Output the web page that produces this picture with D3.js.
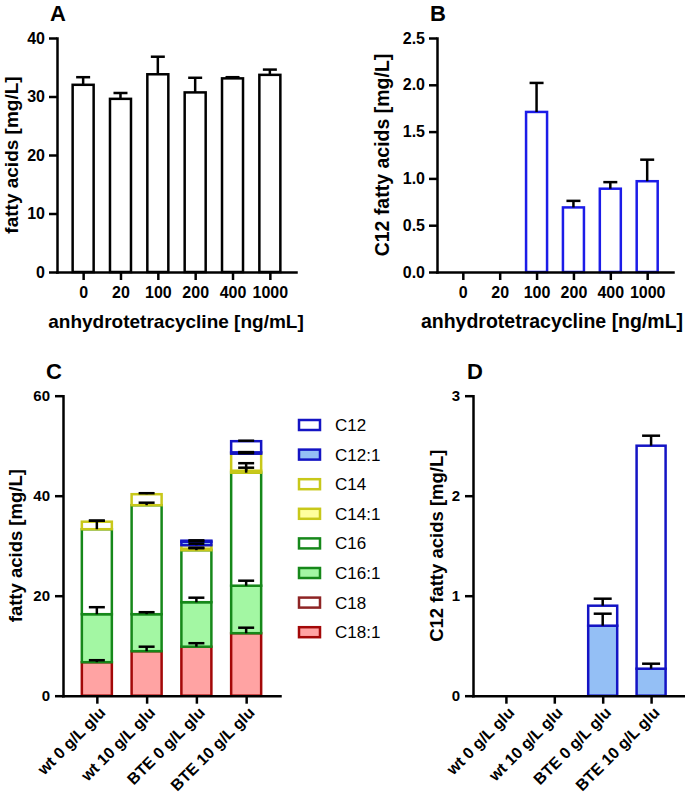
<!DOCTYPE html>
<html>
<head>
<meta charset="utf-8">
<script src="https://cdn.jsdelivr.net/npm/d3@7"></script>
<style>
  body { margin: 0; background: #fff; }
  svg { font-family: "Liberation Sans", Arial, sans-serif; }
</style>
</head>
<body>
<div id="chart"></div>
<script>
const width = 685;
const height = 800;

// panels A and B: induction with anhydrotetracycline
const atcDoses = ["0", "20", "100", "200", "400", "1000"];
const totalFA = [32.0, 29.6, 33.8, 30.7, 33.1, 33.7];
const totalFAErr = [1.3, 1.0, 3.0, 2.5, 0.2, 0.9];
const c12FA = [0, 0, 1.71, 0.69, 0.89, 0.97];
const c12FAErr = [0, 0, 0.31, 0.07, 0.07, 0.23];
const aTicks = [0, 10, 20, 30, 40];
const bTicks = [0, 0.5, 1.0, 1.5, 2.0, 2.5];

// panels C and D: strains x glucose
const strains = ["wt 0 g/L glu", "wt 10 g/L glu", "BTE 0 g/L glu", "BTE 10 g/L glu"];
const species = ["C12", "C12:1", "C14", "C14:1", "C16", "C16:1", "C18", "C18:1"];
const c12 = [0, 0, 0.20, 2.23];
const c12Err = [0, 0, 0.07, 0.10];
const c12_1 = [0, 0, 0.70, 0.27];
const c12_1Err = [0, 0, 0.12, 0.05];
const c14 = [1.5, 2.2, 0.7, 3.4];
const c14Err = [0.2, 0.2, 0.3, 0.1];
const c14_1 = [0, 0, 0.3, 0.4];
const c14_1Err = [0, 0, 0.2, 1.5];
const c16 = [17.0, 21.8, 10.4, 22.6];
const c16Err = [1.7, 0.5, 0.4, 1.0];
const c16_1 = [9.6, 7.4, 8.9, 9.5];
const c16_1Err = [1.4, 0.4, 0.9, 1.0];
const c18 = [0, 0, 0, 0];
const c18Err = [0, 0, 0, 0];
const c18_1 = [6.7, 8.9, 9.8, 12.5];
const c18_1Err = [0.4, 0.9, 0.7, 1.1];
const cTicks = [0, 20, 40, 60];
const dTicks = [0, 1, 2, 3];

const blue = "#1414c4";
const yellow = "#c8c81a";
const green = "#16881a";
const stroke = { "C12": blue, "C12:1": blue, "C14": yellow, "C14:1": yellow,
                 "C16": green, "C16:1": green, "C18": "#8e2424", "C18:1": "#a30808" };
const fill = { "C12": "#fff", "C12:1": "#94bff5", "C14": "#fff", "C14:1": "#ffff9e",
               "C16": "#fff", "C16:1": "#a3f7a3", "C18": "#fff", "C18:1": "#ffa3a3" };

const seriesC = {
    "C12": [c12, c12Err], "C12:1": [c12_1, c12_1Err], "C14": [c14, c14Err], "C14:1": [c14_1, c14_1Err],
    "C16": [c16, c16Err], "C16:1": [c16_1, c16_1Err], "C18": [c18, c18Err], "C18:1": [c18_1, c18_1Err]
};

const svg = d3.select("#chart")
    .append("svg")
    .attr("width", width)
    .attr("height", height);

svg.append("rect").attr("width", width).attr("height", height).attr("fill", "#fff");

function axes(cfg) {
    const g = svg.append("g");
    const xAxis = g.append("g")
        .attr("transform", `translate(0,${cfg.y.range()[0]})`)
        .call(d3.axisBottom(cfg.x).tickSize(8).tickSizeOuter(0).tickPadding(cfg.xPad));
    const yAxis = g.append("g")
        .attr("transform", `translate(${cfg.x.range()[0]},0)`)
        .call(d3.axisLeft(cfg.y).tickValues(cfg.ticks).tickFormat(cfg.fmt)
            .tickSize(8).tickSizeOuter(0).tickPadding(cfg.yPad));
    [xAxis, yAxis].forEach(a => {
        a.attr("font-family", null).attr("font-size", null);
        a.select(".domain").attr("stroke-width", 2.5).attr("stroke-linecap", "square");
        a.selectAll(".tick line").attr("stroke-width", 2.5);
        a.selectAll(".tick text")
            .style("font-size", cfg.tickFont + "px")
            .style("font-weight", "bold")
            .attr("fill", "#000");
    });
    if (cfg.rotate) {
        xAxis.selectAll(".tick text")
            .style("font-size", "16px")
            .attr("y", 0).attr("x", 0).attr("dy", "0.35em")
            .attr("text-anchor", "end")
            .attr("transform", "translate(5,14) rotate(-45)");
    }
    // axis titles
    svg.append("text")
        .attr("transform", `translate(${cfg.yLabelX},${(cfg.y.range()[0] + cfg.y.range()[1]) / 2}) rotate(-90)`)
        .attr("text-anchor", "middle")
        .style("font-size", cfg.labelFont + "px")
        .style("font-weight", "bold")
        .text(cfg.yLabel);
    if (cfg.xLabel) {
        svg.append("text")
            .attr("x", cfg.xLabelX)
            .attr("y", cfg.xLabelY)
            .attr("text-anchor", "middle")
            .style("font-size", cfg.labelFont + "px")
            .style("font-weight", "bold")
            .text(cfg.xLabel);
    }
    svg.append("text")
        .attr("x", cfg.letterX)
        .attr("y", cfg.letterY)
        .style("font-size", "22px")
        .style("font-weight", "bold")
        .text(cfg.letter);
}

function errorBar(x, y, cx, top, val, capW) {
    if (val <= 0) return;
    svg.append("line")
        .attr("x1", cx).attr("x2", cx)
        .attr("y1", y(top)).attr("y2", y(top + val))
        .attr("stroke", "#000").attr("stroke-width", 2.5);
    svg.append("line")
        .attr("x1", cx - capW / 2).attr("x2", cx + capW / 2)
        .attr("y1", y(top + val)).attr("y2", y(top + val))
        .attr("stroke", "#000").attr("stroke-width", 2.5);
}

// ---- A ----
const xA = d3.scalePoint().domain(atcDoses).range([57, 296]).padding(0.7);
const yA = d3.scaleLinear().domain([0, 40]).range([272, 38]);
atcDoses.forEach((d, i) => {
    svg.append("rect")
        .attr("x", xA(d) - 10.5).attr("width", 21)
        .attr("y", yA(totalFA[i])).attr("height", yA(0) - yA(totalFA[i]))
        .attr("fill", "#fff").attr("stroke", "#000").attr("stroke-width", 2.5);
    errorBar(xA, yA, xA(d), totalFA[i], totalFAErr[i], 14);
});
axes({ x: xA, y: yA, ticks: aTicks, fmt: d3.format("d"), xPad: 7, yPad: 4, tickFont: 16, labelFont: 19,
       yLabel: "fatty acids [mg/L]", yLabelX: 18, xLabel: "anhydrotetracycline [ng/mL]", xLabelX: 176, xLabelY: 328,
       letter: "A", letterX: 50, letterY: 21 });

// ---- B ----
const xB = d3.scalePoint().domain(atcDoses).range([437, 673]).padding(0.7);
const yB = d3.scaleLinear().domain([0, 2.5]).range([272, 38]);
atcDoses.forEach((d, i) => {
    if (c12FA[i] <= 0) return;
    svg.append("rect")
        .attr("x", xB(d) - 10.5).attr("width", 21)
        .attr("y", yB(c12FA[i])).attr("height", yB(0) - yB(c12FA[i]))
        .attr("fill", "#fff").attr("stroke", "#1c1ce8").attr("stroke-width", 2.5);
    errorBar(xB, yB, xB(d), c12FA[i], c12FAErr[i], 14);
});
axes({ x: xB, y: yB, ticks: bTicks, fmt: d3.format(".1f"), xPad: 7, yPad: 4, tickFont: 16, labelFont: 19.5,
       yLabel: "C12 fatty acids [mg/L]", yLabelX: 389, xLabel: "anhydrotetracycline [ng/mL]", xLabelX: 552, xLabelY: 328,
       letter: "B", letterX: 430, letterY: 21 });

// ---- stacked panels ----
function stacked(x, y, keys, barW, capW) {
    const order = keys.slice().reverse(); // bottom first
    strains.forEach((s, i) => {
        let base = 0;
        const errs = [];
        order.forEach(k => {
            const v = seriesC[k][0][i];
            const e = seriesC[k][1][i];
            if (v > 0) {
                svg.append("rect")
                    .attr("x", x(s) - barW / 2).attr("width", barW)
                    .attr("y", y(base + v)).attr("height", y(base) - y(base + v))
                    .attr("fill", fill[k]).attr("stroke", stroke[k]).attr("stroke-width", 2.5);
                errs.push([base + v, e]);
            }
            base += v;
        });
        errs.forEach(([top, e]) => errorBar(x, y, x(s), top, e, capW));
    });
}

// ---- C ----
const xC = d3.scalePoint().domain(strains).range([63, 280]).padding(0.68);
const yC = d3.scaleLinear().domain([0, 60]).range([695.7, 395.7]);
stacked(xC, yC, species, 30, 16);
axes({ x: xC, y: yC, ticks: cTicks, fmt: d3.format("d"), xPad: 4, yPad: 5, tickFont: 15, labelFont: 18.5,
       yLabel: "fatty acids [mg/L]", yLabelX: 22, rotate: true,
       letter: "C", letterX: 46, letterY: 379 });

// legend
const legend = svg.append("g");
species.forEach((k, i) => {
    const cy = 425 + i * 29.6;
    legend.append("rect")
        .attr("x", 299).attr("y", cy - 5).attr("width", 21).attr("height", 10)
        .attr("fill", fill[k]).attr("stroke", stroke[k]).attr("stroke-width", 2.5);
    legend.append("text")
        .attr("x", 335).attr("y", cy + 6)
        .style("font-size", "17px")
        .text(k);
});

// ---- D ----
const xD = d3.scalePoint().domain(strains).range([473, 684]).padding(0.68);
const yD = d3.scaleLinear().domain([0, 3]).range([695.7, 395.7]);
stacked(xD, yD, ["C12", "C12:1"], 29, 18);
axes({ x: xD, y: yD, ticks: dTicks, fmt: d3.format("d"), xPad: 4, yPad: 5, tickFont: 15, labelFont: 18.5,
       yLabel: "C12 fatty acids [mg/L]", yLabelX: 443, rotate: true,
       letter: "D", letterX: 467, letterY: 379 });
</script>
</body>
</html>
